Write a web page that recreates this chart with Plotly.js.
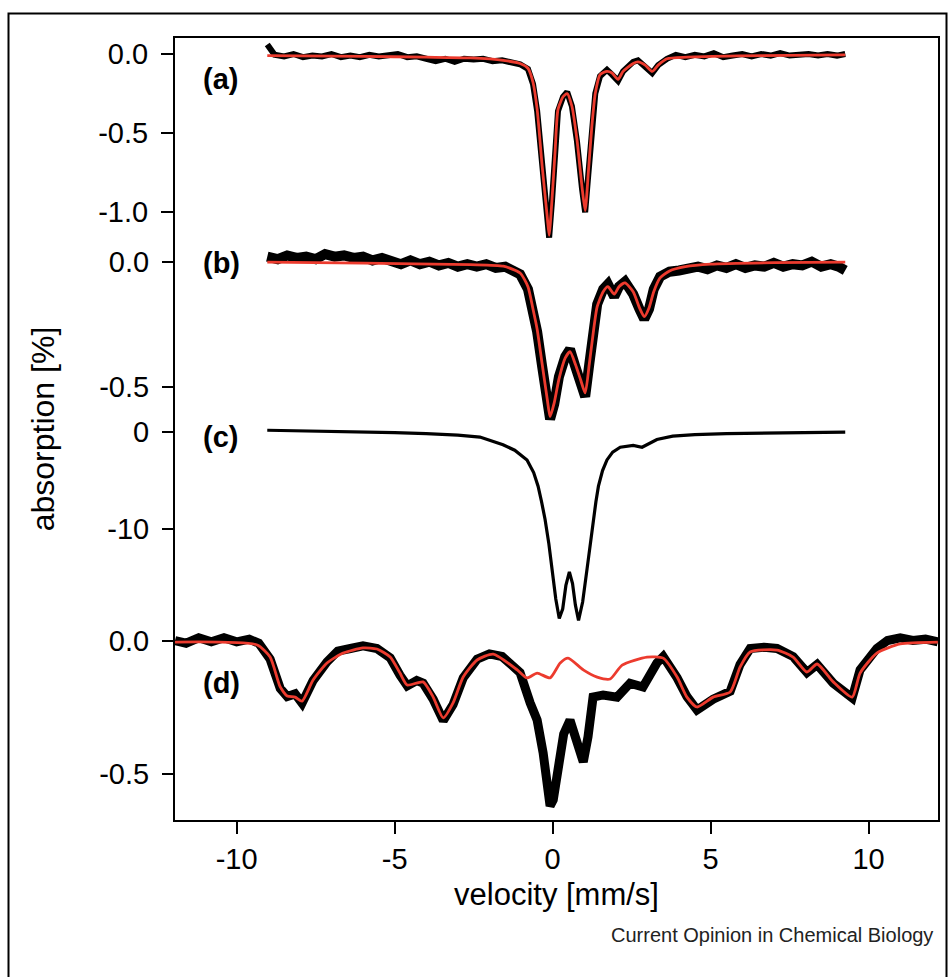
<!DOCTYPE html>
<html>
<head>
<meta charset="utf-8">
<script src="https://cdn.plot.ly/plotly-3.0.1.min.js"></script>
<style>html,body{margin:0;padding:0;background:#fff;}#chart{width:948px;height:977px;}</style>
</head>
<body>
<div id="chart"></div>
<script>
// ---- x tick labels ----
var xTicks = [-10, -5, 0, 5, 10];
var xTickText = ['-10', '-5', '0', '5', '10'];

// ---- panel (a) ----
var a_vel_fit = [-9.03,-6.0,-4.0,-2.6,-1.56,-1.03,-0.78,-0.62,-0.49,-0.33,-0.17,-0.11,-0.02,0.08,0.17,0.33,0.46,0.61,0.77,0.93,1.03,1.13,1.24,1.35,1.5,1.72,1.88,2.07,2.23,2.55,2.7,2.93,3.15,3.34,3.62,4.25,5.84,9.26];
var a_fit = [-0.01,-0.015,-0.02,-0.025,-0.04,-0.06,-0.09,-0.18,-0.35,-0.71,-1.03,-1.145,-0.92,-0.61,-0.35,-0.27,-0.25,-0.33,-0.54,-0.84,-0.99,-0.75,-0.46,-0.25,-0.13,-0.11,-0.12,-0.16,-0.11,-0.06,-0.05,-0.07,-0.11,-0.07,-0.03,-0.02,-0.012,-0.006];
var a_vel_data = [-9.03,-8.8,-8.5,-8.2,-7.9,-7.6,-7.3,-7.0,-6.7,-6.4,-6.1,-5.8,-5.5,-5.2,-4.9,-4.6,-4.3,-4.0,-3.7,-3.4,-3.1,-2.8,-2.5,-2.2,-1.9,-1.6,-1.3,-1.03,-0.78,-0.62,-0.49,-0.33,-0.17,-0.11,-0.02,0.08,0.17,0.33,0.46,0.61,0.77,0.93,1.03,1.13,1.24,1.35,1.5,1.72,1.88,2.07,2.23,2.55,2.7,2.93,3.15,3.34,3.62,3.9,4.2,4.5,4.8,5.1,5.4,5.7,6.0,6.3,6.6,6.9,7.2,7.5,7.8,8.1,8.4,8.7,9.0,9.26];
var a_data = [0.06,-0.005,-0.015,0.0,-0.02,-0.01,-0.015,0.0,-0.02,-0.01,-0.02,-0.005,-0.015,-0.01,0.0,-0.02,-0.015,-0.03,-0.045,-0.03,-0.05,-0.03,-0.035,-0.03,-0.045,-0.04,-0.055,-0.065,-0.095,-0.19,-0.36,-0.72,-1.04,-1.16,-0.93,-0.62,-0.36,-0.27,-0.24,-0.33,-0.55,-0.85,-1.0,-0.76,-0.47,-0.25,-0.14,-0.1,-0.13,-0.17,-0.11,-0.05,-0.04,-0.08,-0.12,-0.07,-0.03,-0.005,-0.02,-0.005,-0.015,0.005,-0.02,-0.01,0.0,-0.015,0.0,-0.01,0.005,-0.01,-0.005,0.0,-0.01,0.0,-0.01,0.0];
var a_tickvals = [0, -0.5, -1.0];
var a_ticktext = ['0.0', '-0.5', '-1.0'];

// ---- panel (b) ----
var b_vel_fit = [-9.03,-6.0,-2.6,-1.56,-1.03,-0.78,-0.62,-0.49,-0.33,-0.17,-0.08,0.05,0.2,0.4,0.55,0.72,0.88,1.03,1.16,1.3,1.41,1.6,1.75,1.95,2.1,2.29,2.55,2.75,2.9,3.05,3.2,3.4,3.7,4.2,5.0,7.0,9.26];
var b_fit = [-0.002,-0.006,-0.012,-0.018,-0.045,-0.1,-0.19,-0.27,-0.41,-0.55,-0.62,-0.565,-0.47,-0.385,-0.36,-0.41,-0.47,-0.525,-0.41,-0.27,-0.18,-0.12,-0.1,-0.13,-0.1,-0.085,-0.12,-0.185,-0.22,-0.185,-0.12,-0.065,-0.037,-0.02,-0.01,-0.004,-0.002];
var b_vel_data = [-9.03,-8.7,-8.4,-8.1,-7.8,-7.5,-7.2,-6.9,-6.6,-6.3,-6.0,-5.7,-5.4,-5.1,-4.8,-4.5,-4.2,-3.9,-3.6,-3.3,-3.0,-2.7,-2.4,-2.1,-1.8,-1.5,-1.25,-1.03,-0.78,-0.62,-0.49,-0.33,-0.17,-0.08,0.05,0.2,0.4,0.55,0.72,0.88,1.03,1.16,1.3,1.41,1.6,1.75,1.95,2.1,2.29,2.55,2.75,2.9,3.05,3.2,3.4,3.7,4.0,4.3,4.6,4.9,5.2,5.5,5.8,6.1,6.4,6.7,7.0,7.3,7.6,7.9,8.2,8.5,8.8,9.05,9.26];
var b_data = [0.02,0.01,0.025,0.015,0.02,0.01,0.03,0.02,0.025,0.015,0.02,0.005,0.015,0.0,-0.01,0.005,-0.01,0.0,-0.015,-0.005,-0.02,-0.01,-0.02,-0.01,-0.025,-0.02,-0.035,-0.05,-0.11,-0.2,-0.28,-0.42,-0.56,-0.63,-0.57,-0.46,-0.38,-0.35,-0.42,-0.48,-0.54,-0.41,-0.26,-0.17,-0.11,-0.09,-0.14,-0.1,-0.08,-0.13,-0.19,-0.23,-0.19,-0.11,-0.06,-0.04,-0.035,-0.03,-0.02,-0.03,-0.015,-0.025,-0.01,-0.025,-0.015,-0.02,-0.005,-0.02,-0.01,-0.015,0.0,-0.02,-0.01,-0.02,-0.035];
var b_tickvals = [0, -0.5];
var b_ticktext = ['0.0', '-0.5'];

// ---- panel (c) ----
var c_vel = [-9.03,-8.0,-7.0,-6.0,-5.0,-4.0,-3.0,-2.3,-1.57,-1.2,-0.81,-0.6,-0.46,-0.35,-0.24,-0.12,-0.02,0.1,0.21,0.32,0.42,0.53,0.63,0.72,0.82,0.95,1.09,1.19,1.29,1.37,1.45,1.58,1.72,1.9,2.14,2.55,2.83,3.05,3.3,3.8,4.5,5.5,6.5,7.5,8.5,9.26];
var c_data = [0.15,0.1,0.05,0.0,-0.1,-0.2,-0.35,-0.55,-1.35,-1.9,-2.9,-4.2,-5.6,-7.2,-9.0,-11.5,-14.1,-17.2,-19.2,-18.2,-15.8,-14.4,-15.6,-17.8,-19.4,-17.5,-14.1,-11.5,-9.0,-7.2,-5.6,-4.0,-2.9,-2.1,-1.6,-1.4,-1.6,-1.2,-0.8,-0.45,-0.3,-0.2,-0.15,-0.1,-0.05,-0.05];
var c_tickvals = [0, -10];
var c_ticktext = ['0', '-10'];

// ---- panel (d) ----
var d_vel_fit = [-11.95,-9.35,-8.94,-8.62,-8.4,-8.15,-7.93,-7.58,-7.14,-6.63,-6.0,-5.56,-5.14,-4.83,-4.6,-4.1,-3.78,-3.46,-3.15,-2.83,-2.39,-1.88,-1.12,-0.81,-0.49,-0.08,0.24,0.49,0.97,1.41,1.82,2.2,2.99,3.5,3.94,4.25,4.57,5.08,5.62,5.93,6.25,7.1,7.61,8.05,8.37,8.88,9.48,9.73,10.26,11.0,12.19];
var d_fit = [-0.006,-0.017,-0.062,-0.174,-0.208,-0.212,-0.227,-0.148,-0.084,-0.047,-0.028,-0.032,-0.062,-0.122,-0.167,-0.155,-0.212,-0.29,-0.234,-0.137,-0.073,-0.051,-0.11,-0.14,-0.122,-0.14,-0.084,-0.066,-0.11,-0.137,-0.144,-0.092,-0.062,-0.066,-0.137,-0.212,-0.249,-0.212,-0.193,-0.1,-0.043,-0.036,-0.062,-0.118,-0.088,-0.155,-0.212,-0.122,-0.047,-0.013,-0.006];
var d_vel_data = [-11.95,-11.6,-11.2,-10.8,-10.4,-10.0,-9.6,-9.3,-8.94,-8.62,-8.4,-8.15,-7.93,-7.58,-7.14,-6.8,-6.4,-6.0,-5.56,-5.14,-4.83,-4.6,-4.3,-4.1,-3.78,-3.46,-3.15,-2.83,-2.39,-2.0,-1.6,-1.3,-1.03,-0.71,-0.49,-0.3,-0.08,0.02,0.2,0.35,0.55,0.81,0.97,1.12,1.28,1.6,2.04,2.45,2.86,3.3,3.5,3.94,4.25,4.57,5.08,5.62,5.93,6.25,6.7,7.1,7.61,8.05,8.37,8.88,9.48,9.73,10.26,10.6,11.0,11.4,11.8,12.19];
var d_data = [0.0,-0.01,0.01,-0.005,0.01,-0.005,0.005,-0.01,-0.07,-0.18,-0.21,-0.2,-0.235,-0.15,-0.08,-0.04,-0.03,-0.02,-0.03,-0.065,-0.13,-0.17,-0.15,-0.16,-0.22,-0.3,-0.24,-0.14,-0.07,-0.05,-0.06,-0.09,-0.12,-0.234,-0.298,-0.421,-0.62,-0.597,-0.45,-0.35,-0.298,-0.384,-0.455,-0.361,-0.212,-0.204,-0.212,-0.16,-0.174,-0.084,-0.06,-0.14,-0.21,-0.26,-0.22,-0.19,-0.09,-0.03,-0.025,-0.03,-0.06,-0.12,-0.09,-0.16,-0.215,-0.11,-0.03,0.0,0.01,0.0,0.005,-0.005];
var d_tickvals = [0, -0.5];
var d_ticktext = ['0.0', '-0.5'];

var panelLabels = ['(a)', '(b)', '(c)', '(d)'];

// ---- styles ----
var FONT = 'Liberation Sans, Arial, Helvetica, sans-serif';
var RED = '#ec3b2e';
var BLACK = '#000000';

function dataTrace(x, y, yaxis, w) {
  return {x: x, y: y, yaxis: yaxis, type: 'scatter', mode: 'lines',
          line: {color: BLACK, width: w, shape: 'linear'}, hoverinfo: 'skip', showlegend: false};
}
function fitTrace(x, y, yaxis) {
  return {x: x, y: y, yaxis: yaxis, type: 'scatter', mode: 'lines',
          line: {color: RED, width: 2.8, shape: 'spline', smoothing: 0.6}, hoverinfo: 'skip', showlegend: false};
}

var traces = [
  dataTrace(a_vel_data, a_data, 'y', 6),
  fitTrace(a_vel_fit, a_fit, 'y'),
  dataTrace(b_vel_data, b_data, 'y2', 10),
  fitTrace(b_vel_fit, b_fit, 'y2'),
  dataTrace(c_vel, c_data, 'y3', 3.2),
  dataTrace(d_vel_data, d_data, 'y4', 9),
  fitTrace(d_vel_fit, d_fit, 'y4')
];

// pixel geometry of the plot area
var L = 175, R = 10, T = 38, B = 157, W = 948, H = 977;
var plotW = W - L - R, plotH = H - T - B;
function py(p) { return (H - B - p) / plotH; }   // pixel y -> paper
function px(p) { return (p - L) / plotW; }        // pixel x -> paper
function yr(zeroPx, ppu) { return [(zeroPx - (H - B)) / ppu, (zeroPx - T) / ppu]; }

var tickFont = {family: FONT, size: 29, color: '#000'};
function yax(tv, tt, range, extra) {
  var o = {range: range, tickvals: tv, ticktext: tt, ticks: 'outside', ticklen: 12, tickwidth: 2,
           tickcolor: '#000', tickfont: tickFont, showgrid: false, zeroline: false,
           ticklabelstandoff: 7, fixedrange: true, domain: [0, 1]};
  for (var k in extra) o[k] = extra[k];
  return o;
}

var layout = {
  width: W, height: H,
  margin: {l: L, r: R, t: T, b: B},
  paper_bgcolor: '#fff', plot_bgcolor: 'rgba(0,0,0,0)',
  font: {family: FONT, color: '#000'},
  showlegend: false,
  xaxis: {range: [-11.95, -11.95 + plotW / 31.6], tickvals: xTicks, ticktext: xTickText, ticks: 'outside', ticklen: 12, tickwidth: 2,
          tickcolor: '#000', tickfont: tickFont, showline: true, linewidth: 2, linecolor: '#000', mirror: true,
          showgrid: false, zeroline: false, ticklabelstandoff: 0,
          title: {text: 'velocity [mm/s]', font: {family: FONT, size: 31, color: '#000'}, standoff: 10}},
  yaxis: yax(a_tickvals, a_ticktext, yr(54, 158.3), {showline: true, linewidth: 2, linecolor: '#000', mirror: true,
          title: {text: 'absorption [%]', font: {family: FONT, size: 32, color: '#000'}, standoff: 34}}),
  yaxis2: yax(b_tickvals, b_ticktext, yr(261.7, 250), {overlaying: 'y', anchor: 'x', side: 'left'}),
  yaxis3: yax(c_tickvals, c_ticktext, yr(431.7, 9.73), {overlaying: 'y', anchor: 'x', side: 'left'}),
  yaxis4: yax(d_tickvals, d_ticktext, yr(640.5, 267), {overlaying: 'y', anchor: 'x', side: 'left'}),
  annotations: [
    {text: '<b>' + panelLabels[0] + '</b>', xref: 'paper', yref: 'paper', x: px(201), y: py(79), xanchor: 'left', yanchor: 'middle', showarrow: false, font: {family: FONT, size: 29}},
    {text: '<b>' + panelLabels[1] + '</b>', xref: 'paper', yref: 'paper', x: px(201), y: py(263), xanchor: 'left', yanchor: 'middle', showarrow: false, font: {family: FONT, size: 29}},
    {text: '<b>' + panelLabels[2] + '</b>', xref: 'paper', yref: 'paper', x: px(201), y: py(437), xanchor: 'left', yanchor: 'middle', showarrow: false, font: {family: FONT, size: 29}},
    {text: '<b>' + panelLabels[3] + '</b>', xref: 'paper', yref: 'paper', x: px(201), y: py(683), xanchor: 'left', yanchor: 'middle', showarrow: false, font: {family: FONT, size: 29}},
    {text: 'Current Opinion in Chemical Biology', xref: 'paper', yref: 'paper', x: px(935), y: py(935), xanchor: 'right', yanchor: 'middle', showarrow: false, font: {family: FONT, size: 20, color: '#222'}}
  ],
  shapes: [
    {type: 'rect', xref: 'paper', yref: 'paper', x0: px(8.5), x1: px(946.5), y0: py(995), y1: py(13.5), line: {color: '#000', width: 2}, fillcolor: 'rgba(0,0,0,0)', layer: 'above'}
  ]
};

Plotly.newPlot('chart', traces, layout, {staticPlot: true, displayModeBar: false});
</script>
</body>
</html>
